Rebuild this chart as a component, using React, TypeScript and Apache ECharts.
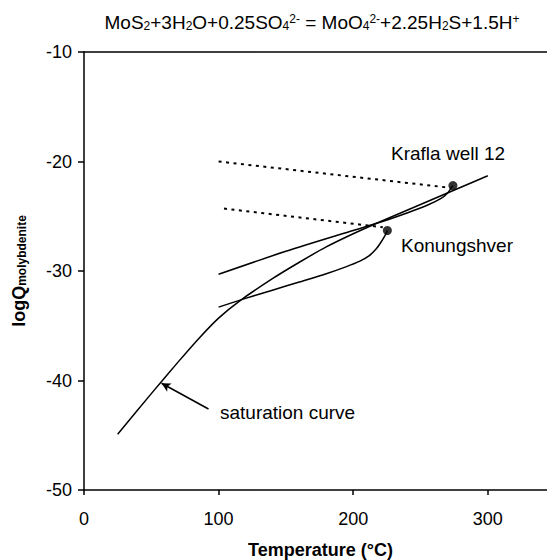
import React, { useEffect, useRef } from "react";
import * as echarts from "echarts";

// ---- data ----
const xTicks = [0, 100, 200, 300];

const saturationT = [25, 50, 70, 85, 100, 116, 140, 160, 180, 200, 220, 240, 260, 280, 300];
const saturationLogQ = [-44.9, -41.2, -38.3, -36.2, -34.3, -32.7, -30.7, -29.2, -27.8, -26.6, -25.5, -24.45, -23.4, -22.35, -21.3];

const kraflaT = [100, 150, 200, 220, 240, 255, 265, 270, 274];
const kraflaLogQ = [-30.3, -28.2, -26.3, -25.55, -24.7, -24.0, -23.4, -22.9, -22.2];

const kraflaDotT = [100, 272];
const kraflaDotLogQ = [-20.0, -22.4];

const konungT = [100, 120, 140, 160, 180, 195, 205, 212, 217, 220.5, 223.5, 225.4];
const konungLogQ = [-33.3, -32.5, -31.75, -31.0, -30.25, -29.6, -29.1, -28.6, -28.0, -27.4, -26.8, -26.3];

const konungDotT = [104, 222];
const konungDotLogQ = [-24.3, -26.0];

const sampleNames = ["Krafla well 12", "Konungshver"];
const sampleT = [274.1, 225.4];
const sampleLogQ = [-22.2, -26.3];

const arrowFrom = [92.5, -42.6];
const arrowTo = [57.6, -40.25];

const zip = (a: number[], b: number[]) => a.map((v, i) => [v, b[i]]);

const FONT = "'Liberation Sans', Arial, sans-serif";

export default function App() {
  const ref = useRef<HTMLDivElement>(null);

  useEffect(() => {
    if (!ref.current) return;
    const chart = echarts.init(ref.current, undefined, { renderer: "svg" });

    const solid = { color: "#000", width: 1.5, type: "solid" as const };
    const dotted = { color: "#000", width: 2, type: [3, 4.5] as any };

    const option: any = {
      animation: false,
      backgroundColor: "#fff",
      textStyle: { fontFamily: FONT, color: "#000" },
      grid: { left: 84, right: 0, top: 52, bottom: 70, containLabel: false, outerBoundsMode: "none" },
      xAxis: [
        {
          type: "value",
          min: 0,
          max: 344,
          position: "bottom",
          name: "Temperature (°C)",
          nameLocation: "middle",
          nameGap: 51,
          nameTextStyle: { fontFamily: FONT, fontWeight: "bold", fontSize: 18, color: "#000", padding: [0, 0, 0, 10] },
          axisLine: { show: true, lineStyle: { color: "#000", width: 1.5 } },
          axisTick: { show: true, inside: false, length: 5, customValues: xTicks, lineStyle: { color: "#000", width: 1.5 } },
          axisLabel: { fontFamily: FONT, fontSize: 18, color: "#000", margin: 20, customValues: xTicks },
          splitLine: { show: false },
        },
        {
          type: "value",
          min: 0,
          max: 344,
          position: "top",
          axisLine: { show: true, lineStyle: { color: "#000", width: 1.5 } },
          axisTick: { show: false },
          axisLabel: { show: false },
          splitLine: { show: false },
        },
      ],
      yAxis: {
        type: "value",
        min: -50,
        max: -10,
        interval: 10,
        name: "logQ{sub|molybdenite}",
        nameLocation: "middle",
        nameRotate: 90,
        nameGap: 56,
        nameTextStyle: {
          fontFamily: FONT,
          fontWeight: "bold",
          fontSize: 18,
          color: "#000",
          rich: {
            sub: { fontFamily: FONT, fontWeight: "bold", fontSize: 12, color: "#000", verticalAlign: "bottom", lineHeight: 6 },
          },
        },
        axisLine: { show: true, lineStyle: { color: "#000", width: 1.5 } },
        axisTick: { show: true, inside: false, length: 6, lineStyle: { color: "#000", width: 1.5 } },
        axisLabel: { fontFamily: FONT, fontSize: 18, color: "#000", margin: 12 },
        splitLine: { show: false },
      },
      series: [
        {
          name: "saturation curve",
          type: "line",
          data: zip(saturationT, saturationLogQ),
          showSymbol: false,
          symbol: "none",
          smooth: 0.25,
          lineStyle: solid,
          markLine: {
            silent: true,
            symbol: ["none", "arrow"],
            symbolSize: [7, 9],
            lineStyle: { color: "#000", width: 1.5, type: "solid" },
            label: { show: false },
            data: [[{ coord: arrowFrom }, { coord: arrowTo }]],
          },
        },
        {
          name: "Krafla well 12",
          type: "line",
          data: zip(kraflaT, kraflaLogQ),
          showSymbol: false,
          symbol: "none",
          smooth: 0.25,
          lineStyle: solid,
        },
        {
          name: "Krafla well 12 dotted",
          type: "line",
          data: zip(kraflaDotT, kraflaDotLogQ),
          showSymbol: false,
          symbol: "none",
          lineStyle: dotted,
        },
        {
          name: "Konungshver",
          type: "line",
          data: zip(konungT, konungLogQ),
          showSymbol: false,
          symbol: "none",
          smooth: 0.25,
          lineStyle: solid,
        },
        {
          name: "Konungshver dotted",
          type: "line",
          data: zip(konungDotT, konungDotLogQ),
          showSymbol: false,
          symbol: "none",
          lineStyle: dotted,
        },
        {
          name: "samples",
          type: "scatter",
          data: sampleT.map((t, i) => ({ name: sampleNames[i], value: [t, sampleLogQ[i]] })),
          symbol: "circle",
          symbolSize: 9,
          itemStyle: { color: "#000" },
          z: 5,
        },
      ],
      graphic: [
        {
          type: "text",
          x: 312,
          y: 22,
          style: {
            text: "MoS{sub|2}+3H{sub|2}O+0.25SO{sub|4}{sup|2-} = MoO{sub|4}{sup|2-}+2.25H{sub|2}S+1.5H{sup|+}",
            fontFamily: FONT,
            fontSize: 19,
            fill: "#000",
            align: "center",
            verticalAlign: "middle",
            rich: {
              sub: { fontFamily: FONT, fontSize: 12, fill: "#000", verticalAlign: "bottom", lineHeight: 6 },
              sup: { fontFamily: FONT, fontSize: 12, fill: "#000", verticalAlign: "top", lineHeight: 8 },
            },
          },
        },
        {
          type: "text",
          x: 391,
          y: 153,
          style: { text: sampleNames[0], fontFamily: FONT, fontSize: 19, fill: "#000", align: "left", verticalAlign: "middle" },
        },
        {
          type: "text",
          x: 401,
          y: 245,
          style: { text: sampleNames[1], fontFamily: FONT, fontSize: 19, fill: "#000", align: "left", verticalAlign: "middle" },
        },
        {
          type: "text",
          x: 220,
          y: 412,
          style: { text: "saturation curve", fontFamily: FONT, fontSize: 19, fill: "#000", align: "left", verticalAlign: "middle" },
        },
      ],
    };

    chart.setOption(option);
    return () => chart.dispose();
  }, []);

  return <div ref={ref} style={{ width: 547, height: 560, position: "absolute", left: 0, top: 0 }} />;
}
